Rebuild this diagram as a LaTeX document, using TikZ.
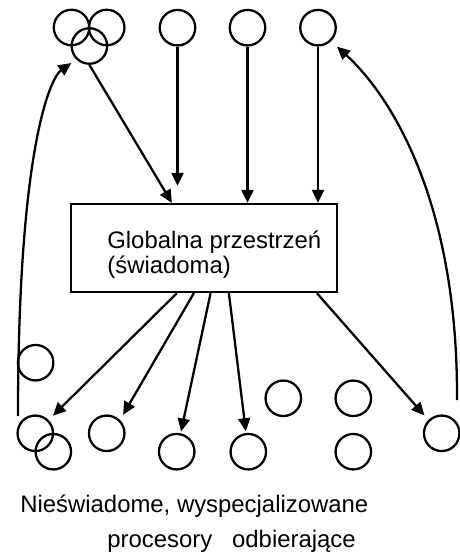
\documentclass[tikz,border=0pt]{standalone}
\usepackage{fontspec}
\setmainfont{Liberation Sans}
\usetikzlibrary{arrows.meta, calc}

\begin{document}
\begin{tikzpicture}[
  x=0.02cm, y=-0.02cm,
  font=\fontsize{13.6pt}{14.7pt}\selectfont,
  proc/.style ={circle, draw=black, line width=1.3pt, minimum size=0.71cm, inner sep=0pt},
  glob/.style ={rectangle, draw=black, line width=1.3pt, minimum width=5.32cm,
                minimum height=1.76cm, inner sep=0pt},
  txt/.style  ={inner sep=0pt, align=left},
  arr/.style  ={-{Triangle[length=7.4pt, width=6.8pt]}, draw=black, line width=1.3pt},
]
\useasboundingbox (0,0) rectangle (459,553);

% --- Top row: processors sending in ---
\node[proc] (t1) at ( 71.5, 27.5) {};
\node[proc] (t2) at (106.7, 27.5) {};
\node[proc] (t3) at ( 89.4, 46.0) {};
\node[proc] (t4) at (177.5, 27.7) {};
\node[proc] (t5) at (247.5, 27.7) {};
\node[proc] (t6) at (318.0, 27.7) {};

% --- Global workspace ---
\node[glob] (gw) at (204, 248) {};
\node[txt, anchor=base west] (gwtxt) at (107, 274) {Globalna przestrzeń\\(świadoma)};

% --- Bottom: receiving processors ---
\node[proc] (b0) at ( 35.6, 362.7) {};
\node[proc] (b1) at ( 35.3, 433.3) {};
\node[proc] (b2) at ( 53.3, 451.7) {};
\node[proc] (b3) at (106.7, 433.3) {};
\node[proc] (b4) at (176.7, 451.7) {};
\node[proc] (b5) at (248.3, 451.7) {};
\node[proc] (b6) at (283.3, 398.3) {};
\node[proc] (b7) at (353.3, 398.3) {};
\node[proc] (b8) at (353.3, 451.7) {};
\node[proc] (b9) at (441.7, 433.3) {};

% --- Free ends of the loops ---
\coordinate (lc) at (18, 416);
\coordinate (rc) at (457, 400);

% --- Arrows in ---
\draw[arr] (t3.south) -- ($(gw.north west)+(102,0)$);
\draw[arr] (t4.south) -- ($(t4 |- gw.north)+(0,-17)$);
\draw[arr] (t5.south) -- (t5 |- gw.north);
\draw[arr] (t6.south) -- (t6 |- gw.north);

% --- Arrows out ---
\draw[arr, shorten >=3.4pt] ($(gw.south west)+(107,0)$) -- (b1.north east);
\draw[arr, shorten >=3.4pt] ($(gw.south west)+(124,0)$) -- (b3.north east);
\draw[arr, shorten >=1pt]   ($(gw.south west)+(140.7,0)$) -- (b4);
\draw[arr, shorten >=1pt]   ($(gw.south west)+(159,0)$) -- (b5);
\draw[arr, shorten >=3.4pt] ($(gw.south west)+(247,0)$) -- (b9.north west);

% --- Loops back ---
\draw[arr, shorten >=3.4pt] (lc) .. controls (18,150) and (50,78) .. (t3.226);
\draw[arr, shorten >=4.5pt] (rc) .. controls (458,200) and (390,95) .. (t6.314);

% --- Caption ---
\node[txt, anchor=base west] (cap1) at (20, 512) {Nieświadome, wyspecjalizowane};
\node[txt, anchor=base west] (cap2) at (107, 547) {procesory~~~odbierające};
\end{tikzpicture}
\end{document}
